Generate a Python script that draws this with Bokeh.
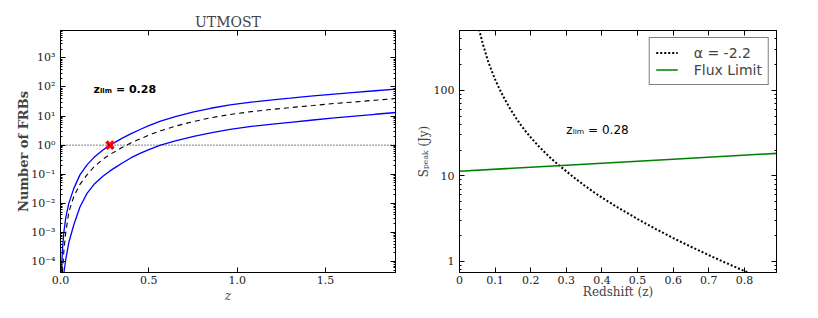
from bokeh.plotting import figure
from bokeh.layouts import row
from bokeh.models import (Range1d, LogAxis, LinearAxis, FixedTicker, Span, Label,
                          Legend, LegendItem)
from bokeh.embed import file_html
from bokeh.resources import INLINE

# ---------------- data (left panel: UTMOST expected FRB counts) ----------------
z_counts = [0.005, 0.008, 0.012, 0.019, 0.03, 0.047, 0.075, 0.11, 0.15, 0.19, 0.24,
            0.28, 0.32, 0.35, 0.4, 0.45, 0.5, 0.566, 0.65, 0.754, 0.85, 0.96,
            1.08, 1.2, 1.3, 1.43, 1.55, 1.65, 1.78, 1.92]
n_upper = [3e-5, 1e-4, 3e-4, 1e-3, 3.3e-3, 1e-2, 0.032, 0.095, 0.21, 0.38, 0.68,
           1.0, 1.38, 1.75, 2.5, 3.45, 4.65, 6.7, 9.6, 13.8, 18.5, 24,
           30, 36, 41, 49, 57, 64, 74, 86]
n_mid = [5e-6, 1.8e-5, 5.5e-5, 2.3e-4, 1e-3, 5e-3, 0.017, 0.045, 0.095, 0.18, 0.33,
         0.48, 0.66, 0.84, 1.2, 1.65, 2.2, 3.1, 4.5, 6.5, 8.7, 11.3,
         14.2, 17, 19.5, 23, 27, 30, 35, 41]
n_lower = [8e-7, 3.5e-6, 1.2e-5, 4e-5, 1.2e-4, 4.5e-4, 1.8e-3, 7.5e-3, 0.022, 0.045, 0.085,
           0.13, 0.186, 0.243, 0.37, 0.52, 0.7, 1.0, 1.4, 2.0, 2.65, 3.5,
           4.4, 5.3, 6.1, 7.3, 8.6, 9.8, 11.5, 13.6]
z_lim = [0.28]
n_lim = [1.0]

left_y_ticks = [1e-4, 1e-3, 1e-2, 1e-1, 1e0, 1e1, 1e2, 1e3]
left_y_labels = ["10⁻⁴", "10⁻³", "10⁻²", "10⁻¹", "10⁰", "10¹", "10²", "10³"]
left_x_ticks = [0.0, 0.5, 1.0, 1.5]
left_x_labels = ["0.0", "0.5", "1.0", "1.5"]

# ---------------- data (right panel: peak flux vs redshift) ----------------
z_alpha = [0.05, 0.056, 0.065, 0.08, 0.09, 0.1, 0.113, 0.126, 0.138, 0.15, 0.16,
           0.173, 0.186, 0.2, 0.22, 0.235, 0.25, 0.265, 0.28, 0.3, 0.325, 0.35,
           0.375, 0.4, 0.45, 0.5, 0.55, 0.6, 0.65, 0.7, 0.75, 0.8, 0.85]
s_alpha = [637, 494, 354, 220, 170, 134, 102, 80, 65, 54, 46.5,
           38.9, 33.1, 28.1, 22.7, 19.6, 17.0, 14.9, 13.2, 11.3, 9.3, 7.75,
           6.53, 5.56, 4.12, 3.12, 2.40, 1.87, 1.48, 1.18, 0.95, 0.77, 0.63]
z_flux = [0.0, 0.3, 0.6, 0.9]
s_flux = [11.3, 13.3, 15.6, 18.4]

right_y_ticks = [1, 10, 100]
right_y_labels = ["1", "10", "100"]
right_x_ticks = [0, 0.1, 0.2, 0.3, 0.4, 0.5, 0.6, 0.7, 0.8]
right_x_labels = ["0", "0.1", "0.2", "0.3", "0.4", "0.5", "0.6", "0.7", "0.8"]

SERIF = "DejaVu Serif"
SANS = "DejaVu Sans"


def log_minor(lo_exp, hi_exp):
    out = []
    for e in range(lo_exp, hi_exp + 1):
        for m in range(2, 10):
            out.append(m * 10.0 ** e)
    return out


def style_axis(ax, ticks, labels=None, standoff=5):
    ax.axis_line_color = "black"
    ax.axis_line_width = 1
    ax.major_tick_in = 5
    ax.major_tick_out = 0
    ax.minor_tick_in = 2
    ax.minor_tick_out = 0
    ax.major_tick_line_color = "black"
    ax.minor_tick_line_color = "black"
    if labels is not None:
        ax.major_label_overrides = dict(zip(ticks, labels))
        ax.major_label_text_font = SERIF
        ax.major_label_text_font_size = "11px"
        ax.major_label_text_color = "#222222"
        ax.major_label_standoff = standoff
    else:
        ax.major_label_overrides = {t: "" for t in ticks}
        ax.major_label_text_font_size = "1px"
        ax.major_label_standoff = 0


# ================= left figure =================
p1 = figure(frame_width=335, frame_height=242,
            x_range=Range1d(0, 1.896), y_range=Range1d(4.2e-5, 8700),
            y_axis_type="log", output_backend="svg", toolbar_location=None,
            min_border_left=60, min_border_right=14, min_border_top=30,
            min_border_bottom=36, title="UTMOST")
p1.title.align = "center"
p1.title.text_font = SERIF
p1.title.text_font_size = "14px"
p1.title.text_font_style = "normal"
p1.title.standoff = 2
p1.grid.visible = False
p1.outline_line_color = "black"
p1.background_fill_color = "white"

lx_ticker = FixedTicker(ticks=left_x_ticks)
ly_ticker = FixedTicker(ticks=left_y_ticks, minor_ticks=log_minor(-5, 3))
p1.xaxis.ticker = lx_ticker
p1.yaxis.ticker = ly_ticker
style_axis(p1.xaxis[0], left_x_ticks, left_x_labels, standoff=3)
style_axis(p1.yaxis[0], left_y_ticks, left_y_labels)
p1.xaxis.axis_label = "z"
p1.xaxis.axis_label_text_font = SERIF
p1.xaxis.axis_label_text_font_style = "italic"
p1.xaxis.axis_label_text_font_size = "12px"
p1.xaxis.axis_label_standoff = 2
p1.yaxis.axis_label = "Number of FRBs"
p1.yaxis.axis_label_text_font = SERIF
p1.yaxis.axis_label_text_font_style = "bold"
p1.yaxis.axis_label_text_font_size = "13px"
p1.yaxis.axis_label_standoff = -3

top1 = LinearAxis(ticker=lx_ticker)
style_axis(top1, left_x_ticks)
p1.add_layout(top1, "above")
right1 = LogAxis(ticker=ly_ticker)
style_axis(right1, left_y_ticks)
p1.add_layout(right1, "right")

p1.add_layout(Span(location=1.0, dimension="width", line_color="black",
                   line_width=1, line_dash="1 2"))
p1.line(z_counts, n_upper, line_color="#0000ff", line_width=1.3)
p1.line(z_counts, n_mid, line_color="black", line_width=1.1, line_dash="5 4")
p1.line(z_counts, n_lower, line_color="#0000ff", line_width=1.3)
p1.scatter(z_lim, n_lim, marker="x", size=10, line_color="red", line_width=3.5)

p1.add_layout(Label(x=0.187, y=79, text="zₗᵢₘ = 0.28", text_font=SANS,
                    text_font_size="11px", text_font_style="bold",
                    text_baseline="middle", text_color="black"))

# ================= right figure =================
p2 = figure(frame_width=317, frame_height=242,
            x_range=Range1d(0, 0.89), y_range=Range1d(0.74, 500),
            y_axis_type="log", output_backend="svg", toolbar_location=None,
            min_border_left=50, min_border_right=20, min_border_top=30,
            min_border_bottom=36)
p2.grid.visible = False
p2.outline_line_color = "black"

rx_ticker = FixedTicker(ticks=right_x_ticks)
ry_ticker = FixedTicker(ticks=right_y_ticks,
                        minor_ticks=[0.8, 0.9] + log_minor(0, 1) + [200, 300, 400, 500])
p2.xaxis.ticker = rx_ticker
p2.yaxis.ticker = ry_ticker
style_axis(p2.xaxis[0], right_x_ticks, right_x_labels, standoff=3)
style_axis(p2.yaxis[0], right_y_ticks, right_y_labels)
p2.xaxis.axis_label = "Redshift (z)"
p2.xaxis.axis_label_text_font = SERIF
p2.xaxis.axis_label_text_font_style = "normal"
p2.xaxis.axis_label_text_font_size = "12px"
p2.xaxis.axis_label_standoff = -2
p2.yaxis.axis_label = "Sₚₑₐₖ (Jy)"
p2.yaxis.axis_label_text_font = SERIF
p2.yaxis.axis_label_text_font_style = "normal"
p2.yaxis.axis_label_text_font_size = "12px"
p2.yaxis.axis_label_standoff = 0

top2 = LinearAxis(ticker=rx_ticker)
style_axis(top2, right_x_ticks)
p2.add_layout(top2, "above")
right2 = LogAxis(ticker=ry_ticker)
style_axis(right2, right_y_ticks)
p2.add_layout(right2, "right")

r_alpha = p2.line(z_alpha, s_alpha, line_color="black", line_width=2, line_dash="2 2")
r_flux = p2.line(z_flux, s_flux, line_color="#008000", line_width=1.6)

p2.add_layout(Label(x=0.30, y=34, text="zₗᵢₘ = 0.28", text_font=SANS,
                    text_font_size="12px", text_baseline="middle", text_color="black"))

legend = Legend(items=[LegendItem(label="α = -2.2", renderers=[r_alpha]),
                       LegendItem(label="Flux Limit", renderers=[r_flux])],
                location="top_right")
legend.margin = 7
legend.padding = 6
legend.spacing = 0
legend.glyph_width = 22
legend.glyph_height = 17
legend.label_height = 17
legend.label_standoff = 16
legend.label_text_font = SANS
legend.label_text_font_size = "14px"
legend.border_line_color = "black"
legend.border_line_width = 1
legend.background_fill_alpha = 1.0
p2.add_layout(legend)

layout = row(p1, p2)
open("out.html", "w").write(file_html(layout, INLINE))
